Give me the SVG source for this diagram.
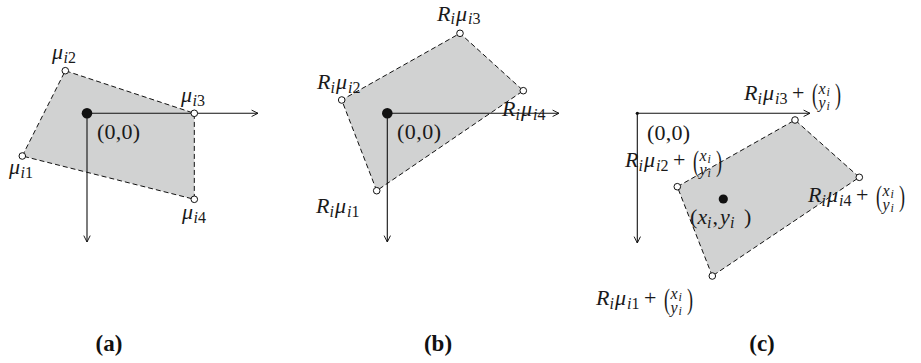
<svg xmlns="http://www.w3.org/2000/svg" width="921" height="363" viewBox="0 0 921 363">
<style>
text{font-family:'Liberation Serif','Times New Roman',serif}
.m{font-size:22px;fill:#1a1a1a}
.it{font-style:italic}
.s{font-size:16px}
.b1{font-size:16px}
.ss{font-size:12px}
.bp{font-size:30px}
.poly{fill:#d1d2d2;stroke:#111;stroke-width:1;stroke-dasharray:5 3}
.ax{stroke:#111;stroke-width:1.1;fill:none;marker-end:url(#arr)}
.v{fill:#fff;stroke:#111;stroke-width:1}
.c{fill:#111}
.cap{font-weight:bold;font-size:23px;text-anchor:middle;fill:#111}
</style>
<defs>
<marker id="arr" viewBox="0 0 10 10" refX="9" refY="5" markerWidth="8" markerHeight="8" markerUnits="userSpaceOnUse" orient="auto">
<path d="M1,1 L9,5 L1,9" fill="none" stroke="#111" stroke-width="1.2"/>
</marker>
</defs>

<g id="shape-a"><polygon class="poly" points="22.3,156 65.3,70.7 194.3,113.3 194.3,199.3"/></g>
<g id="shape-b"><polygon class="poly" points="376.7,190.7 341.7,100 460,33.3 523.3,90.7"/></g>
<g id="shape-c"><polygon class="poly" points="712.3,276 677.3,186.7 795,120 859.3,177.3"/></g>

<g id="connectors">
<line class="ax" x1="87" y1="113.3" x2="258" y2="113.3"/>
<line class="ax" x1="87" y1="113.3" x2="87" y2="242"/>
<line class="ax" x1="387.3" y1="113.3" x2="559" y2="113.3"/>
<line class="ax" x1="387.3" y1="113.3" x2="387.3" y2="242"/>
<line class="ax" x1="637.3" y1="113.3" x2="810" y2="113.3"/>
<line class="ax" x1="637.3" y1="113.3" x2="637.3" y2="243"/>
</g>

<g id="panel-a">
<circle class="c" cx="87" cy="113.3" r="5.3"/>
<circle class="v" cx="22.3" cy="156" r="3.3"/>
<circle class="v" cx="65.3" cy="70.7" r="3.3"/>
<circle class="v" cx="194.3" cy="113.3" r="3.3"/>
<circle class="v" cx="194.3" cy="199.3" r="3.3"/>
<text class="m"><tspan class="it" x="52" y="59">μ</tspan><tspan class="it s" x="63.5" y="62.5">i</tspan><tspan class="s" x="68" y="62.5">2</tspan></text>
<text class="m"><tspan class="it" x="181" y="102">μ</tspan><tspan class="it s" x="192.5" y="105.5">i</tspan><tspan class="s" x="197" y="105.5">3</tspan></text>
<text class="m"><tspan class="it" x="9" y="174">μ</tspan><tspan class="it s" x="20.5" y="177.5">i</tspan><tspan class="s" x="25" y="177.5">1</tspan></text>
<text class="m"><tspan class="it" x="182" y="219">μ</tspan><tspan class="it s" x="193.5" y="222.5">i</tspan><tspan class="s" x="198" y="222.5">4</tspan></text>
<text class="m" x="97" y="139" textLength="43" lengthAdjust="spacing">(0,0)</text>
<text class="cap" x="109" y="351">(a)</text>
</g>

<g id="panel-b">
<circle class="c" cx="387.3" cy="113.3" r="5.3"/>
<circle class="v" cx="376.7" cy="190.7" r="3.3"/>
<circle class="v" cx="341.7" cy="100" r="3.3"/>
<circle class="v" cx="460" cy="33.3" r="3.3"/>
<circle class="v" cx="523.3" cy="90.7" r="3.3"/>
<text class="m"><tspan class="it" x="437" y="20.7">R</tspan><tspan class="it s" x="450.5" y="24.2">i</tspan><tspan class="it" x="456" y="20.7">μ</tspan><tspan class="it s" x="468" y="24.2">i</tspan><tspan class="s" x="472.5" y="24.2">3</tspan></text>
<text class="m"><tspan class="it" x="317" y="89">R</tspan><tspan class="it s" x="330.5" y="92.5">i</tspan><tspan class="it" x="336" y="89">μ</tspan><tspan class="it s" x="348" y="92.5">i</tspan><tspan class="s" x="352.5" y="92.5">2</tspan></text>
<text class="m"><tspan class="it" x="502" y="116">R</tspan><tspan class="it s" x="515.5" y="119.5">i</tspan><tspan class="it" x="521" y="116">μ</tspan><tspan class="it s" x="533" y="119.5">i</tspan><tspan class="s" x="537.5" y="119.5">4</tspan></text>
<text class="m"><tspan class="it" x="316" y="213">R</tspan><tspan class="it s" x="329.5" y="216.5">i</tspan><tspan class="it" x="335" y="213">μ</tspan><tspan class="it s" x="347" y="216.5">i</tspan><tspan class="s" x="351.5" y="216.5">1</tspan></text>
<text class="m" x="397" y="139" textLength="44" lengthAdjust="spacing">(0,0)</text>
<text class="cap" x="438" y="351">(b)</text>
</g>

<g id="panel-c">
<circle class="c" cx="637.3" cy="113.3" r="1.6"/>
<circle class="c" cx="723.3" cy="199" r="4.6"/>
<circle class="v" cx="712.3" cy="276" r="3.3"/>
<circle class="v" cx="677.3" cy="186.7" r="3.3"/>
<circle class="v" cx="795" cy="120" r="3.3"/>
<circle class="v" cx="859.3" cy="177.3" r="3.3"/>
<text class="m" x="647" y="140" textLength="43" lengthAdjust="spacing">(0,0)</text>
<text class="m"><tspan x="690" y="224">(</tspan><tspan class="it" x="697.5" y="224">x</tspan><tspan class="it s" x="707" y="227.5">i</tspan><tspan x="712.5" y="224">,</tspan><tspan class="it" x="720" y="224">y</tspan><tspan class="it s" x="730" y="227.5">i</tspan><tspan x="744" y="224">)</tspan></text>
<g id="label-c3">
<text class="m"><tspan class="it" x="744" y="100">R</tspan><tspan class="it s" x="757.5" y="103.5">i</tspan><tspan class="it" x="763" y="100">μ</tspan><tspan class="it s" x="775" y="103.5">i</tspan><tspan class="s" x="779.5" y="103.5">3</tspan><tspan x="792" y="100">+</tspan></text>
<text class="m bp" transform="translate(812,104) scale(0.6,1)">(</text>
<text class="m"><tspan class="it b1" x="818.5" y="94">x</tspan><tspan class="it ss" x="826.5" y="96">i</tspan><tspan class="it b1" x="818.5" y="107.5">y</tspan><tspan class="it ss" x="826.5" y="109.5">i</tspan></text>
<text class="m bp" transform="translate(835,104) scale(0.6,1)">)</text>
</g>
<g id="label-c4">
<text class="m"><tspan class="it" x="808" y="202">R</tspan><tspan class="it s" x="821.5" y="205.5">i</tspan><tspan class="it" x="827" y="202">μ</tspan><tspan class="it s" x="839" y="205.5">i</tspan><tspan class="s" x="843.5" y="205.5">4</tspan><tspan x="856" y="202">+</tspan></text>
<text class="m bp" transform="translate(876,206) scale(0.6,1)">(</text>
<text class="m"><tspan class="it b1" x="882.5" y="196">x</tspan><tspan class="it ss" x="890.5" y="198">i</tspan><tspan class="it b1" x="882.5" y="209.5">y</tspan><tspan class="it ss" x="890.5" y="211.5">i</tspan></text>
<text class="m bp" transform="translate(899,206) scale(0.6,1)">)</text>
</g>
<g id="label-c2">
<text class="m"><tspan class="it" x="625" y="167">R</tspan><tspan class="it s" x="638.5" y="170.5">i</tspan><tspan class="it" x="644" y="167">μ</tspan><tspan class="it s" x="656" y="170.5">i</tspan><tspan class="s" x="660.5" y="170.5">2</tspan><tspan x="673" y="167">+</tspan></text>
<text class="m bp" transform="translate(693,171) scale(0.6,1)">(</text>
<text class="m"><tspan class="it b1" x="699.5" y="161">x</tspan><tspan class="it ss" x="707.5" y="163">i</tspan><tspan class="it b1" x="699.5" y="174.5">y</tspan><tspan class="it ss" x="707.5" y="176.5">i</tspan></text>
<text class="m bp" transform="translate(716,171) scale(0.6,1)">)</text>
</g>
<g id="label-c1">
<text class="m"><tspan class="it" x="596" y="305">R</tspan><tspan class="it s" x="609.5" y="308.5">i</tspan><tspan class="it" x="615" y="305">μ</tspan><tspan class="it s" x="627" y="308.5">i</tspan><tspan class="s" x="631.5" y="308.5">1</tspan><tspan x="644" y="305">+</tspan></text>
<text class="m bp" transform="translate(664,309) scale(0.6,1)">(</text>
<text class="m"><tspan class="it b1" x="670.5" y="299">x</tspan><tspan class="it ss" x="678.5" y="301">i</tspan><tspan class="it b1" x="670.5" y="312.5">y</tspan><tspan class="it ss" x="678.5" y="314.5">i</tspan></text>
<text class="m bp" transform="translate(687,309) scale(0.6,1)">)</text>
</g>
<text class="cap" x="762" y="351">(c)</text>
</g>
</svg>
